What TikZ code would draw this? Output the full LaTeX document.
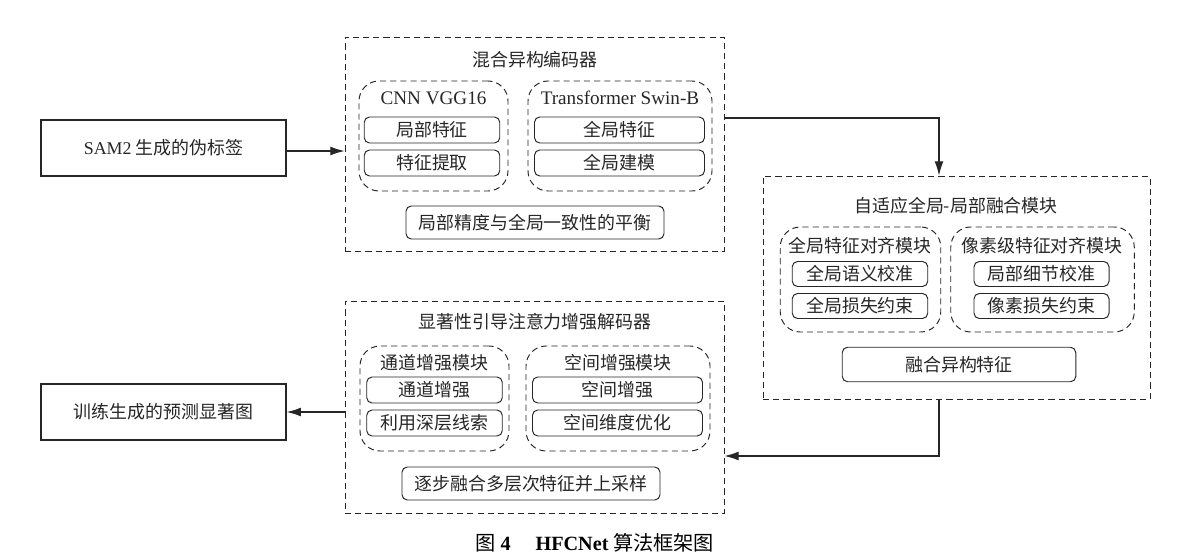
\documentclass[tikz,border=0pt]{standalone}
\usepackage{fontspec}
\setmainfont{Liberation Serif}
\newfontfamily\cjk{Noto Sans CJK SC}
\usetikzlibrary{arrows.meta,positioning}
\newcommand{\lat}[1]{{\rmfamily\fontsize{10.9}{12}\selectfont #1}}

\begin{document}
\begin{tikzpicture}[
        font=\cjk\fontsize{10.2}{12}\selectfont,
        text=black!85,
        line width=.55pt,
        draw=black!85,
        dsh/.style={dash pattern=on 3.5pt off 2.3pt},
        plainbox/.style={draw,line width=.8pt,inner sep=0pt},
        outerbox/.style={draw,dsh,inner sep=0pt},
        groupbox/.style={draw,dsh,rounded corners=.4cm,inner sep=0pt},
        itembox/.style={draw,rounded corners=3pt,inner sep=0pt},
        arr/.style={-{Latex[length=8pt,width=5pt]},black!85,line width=.6pt}
    ]
        \useasboundingbox (0,0) rectangle (23.56,-11.18);
        % input and output
        \node[plainbox,minimum width=4.9cm,minimum height=1.12cm] (sam) at (3.27,-2.96) {{\rmfamily SAM2} 生成的伪标签};
        \node[plainbox,minimum width=4.9cm,minimum height=1.12cm] (out) at (3.27,-8.24) {训练生成的预测显著图};
        % encoder
        \node[outerbox,minimum width=7.58cm,minimum height=4.28cm] (enc) at (10.69,-2.88) {};
        \node (enctitle) at (10.70,-1.20) {混合异构编码器};
        \node[groupbox,minimum width=2.98cm,minimum height=2.2cm] (cnn) at (8.67,-2.72) {};
        \node (cnntitle) at (8.67,-1.96) {\lat{CNN VGG16}};
        \node[itembox,minimum width=2.71cm,minimum height=.52cm] (cnn1) at (8.64,-2.60) {局部特征};
        \node[itembox,minimum width=2.71cm,minimum height=.52cm] (cnn2) at (8.64,-3.26) {特征提取};
        \node[groupbox,minimum width=3.68cm,minimum height=2.2cm] (trf) at (12.40,-2.72) {};
        \node (trftitle) at (12.40,-1.96) {\lat{Transformer Swin-B}};
        \node[itembox,minimum width=3.4cm,minimum height=.52cm] (trf1) at (12.39,-2.60) {全局特征};
        \node[itembox,minimum width=3.4cm,minimum height=.52cm] (trf2) at (12.39,-3.26) {全局建模};
        \node[itembox,minimum width=5.16cm,minimum height=.66cm] (bal) at (10.70,-4.45) {局部精度与全局一致性的平衡};
        % fusion module
        \node[outerbox,minimum width=7.74cm,minimum height=4.46cm] (fus) at (19.13,-5.75) {};
        \node (fustitle) at (19.12,-4.12) {自适应全局-局部融合模块};
        \node[groupbox,minimum width=3.21cm,minimum height=2.1cm] (galign) at (17.21,-5.59) {};
        \node (galigntitle) at (17.20,-4.92) {全局特征对齐模块};
        \node[itembox,minimum width=2.71cm,minimum height=.5cm] (galign1) at (17.20,-5.48) {全局语义校准};
        \node[itembox,minimum width=2.71cm,minimum height=.5cm] (galign2) at (17.20,-6.12) {全局损失约束};
        \node[groupbox,minimum width=3.67cm,minimum height=2.1cm] (palign) at (20.85,-5.59) {};
        \node (paligntitle) at (20.84,-4.92) {像素级特征对齐模块};
        \node[itembox,minimum width=2.7cm,minimum height=.5cm] (palign1) at (20.83,-5.48) {局部细节校准};
        \node[itembox,minimum width=2.7cm,minimum height=.5cm] (palign2) at (20.83,-6.12) {像素损失约束};
        \node[itembox,minimum width=4.67cm,minimum height=.69cm] (mix) at (19.18,-7.29) {融合异构特征};
        % decoder
        \node[outerbox,minimum width=7.58cm,minimum height=4.24cm] (dec) at (10.69,-8.14) {};
        \node (dectitle) at (10.70,-6.44) {显著性引导注意力增强解码器};
        \node[groupbox,minimum width=2.98cm,minimum height=2.1cm] (chan) at (8.69,-7.97) {};
        \node (chantitle) at (8.69,-7.26) {通道增强模块};
        \node[itembox,minimum width=2.71cm,minimum height=.52cm] (chan1) at (8.69,-7.80) {通道增强};
        \node[itembox,minimum width=2.71cm,minimum height=.52cm] (chan2) at (8.69,-8.46) {利用深层线索};
        \node[groupbox,minimum width=3.68cm,minimum height=2.1cm] (spat) at (12.36,-7.97) {};
        \node (spattitle) at (12.36,-7.26) {空间增强模块};
        \node[itembox,minimum width=3.4cm,minimum height=.52cm] (spat1) at (12.35,-7.80) {空间增强};
        \node[itembox,minimum width=3.4cm,minimum height=.52cm] (spat2) at (12.35,-8.46) {空间维度优化};
        \node[itembox,minimum width=5.16cm,minimum height=.66cm] (up) at (10.62,-9.67) {逐步融合多层次特征并上采样};
        % connections
        \draw[arr] ([yshift=-.06cm]sam.east) -- ([yshift=-.06cm]sam.east -| enc.west);
        \draw[arr] ([yshift=.52cm]enc.east) -| ([xshift=-.35cm]fus.north);
        \draw[arr] ([xshift=-.35cm]fus.south) |- ([yshift=-.98cm]dec.east);
        \draw[arr] (out.east -| dec.west) -- (out.east);
        \node[font=\cjk\fontsize{11.5}{13}\selectfont,text=black] (cap) at (11.9,-10.86) {图 {\rmfamily\bfseries 4}\quad{} {\rmfamily\bfseries HFCNet} 算法框架图};
\end{tikzpicture}
\end{document}
